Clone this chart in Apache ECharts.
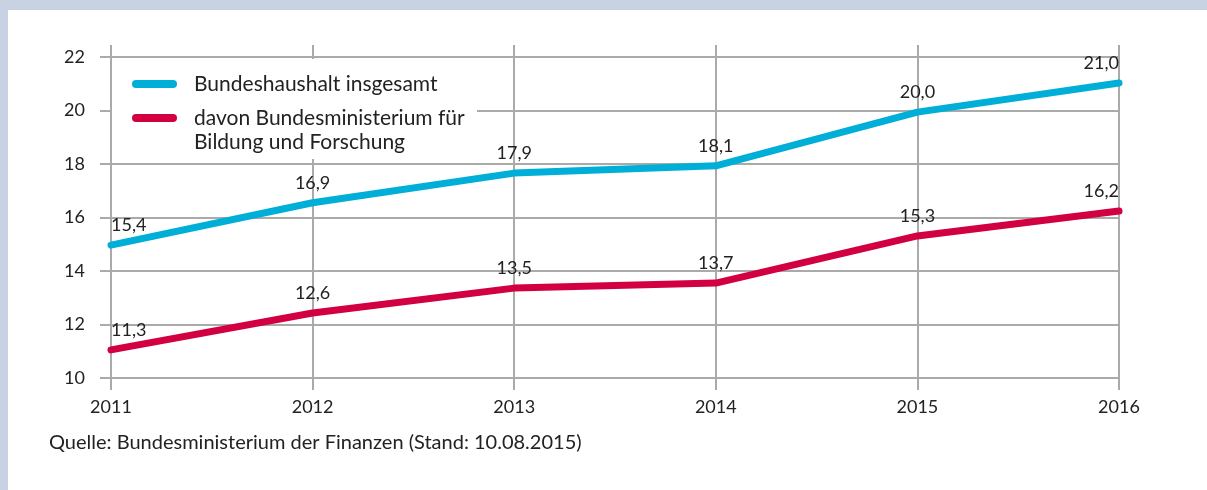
<!DOCTYPE html>
<html>
<head>
<meta charset="utf-8">
<script src="https://cdn.jsdelivr.net/npm/echarts@6/dist/echarts.min.js"></script>
<style>
  html, body { margin: 0; padding: 0; background: #c8d2e3; }
  #chart { width: 1207px; height: 490px; }
</style>
</head>
<body>
<div id="chart"></div>
<script>
  // Jahre und Werte (Mrd. Euro)
  var years = ['2011', '2012', '2013', '2014', '2015', '2016'];
  var gesamt = [14.97, 16.55, 17.66, 17.93, 19.94, 21.03];
  var bmbf = [11.05, 12.43, 13.36, 13.55, 15.31, 16.24];
  var gesamtLabels = ['15,4', '16,9', '17,9', '18,1', '20,0', '21,0'];
  var bmbfLabels = ['11,3', '12,6', '13,5', '13,7', '15,3', '16,2'];
  var yTicks = [10, 12, 14, 16, 18, 20, 22];

  var fontFamily = 'Lato';
  var textColor = '#222222';
  var gridColor = '#aaaaaa';
  var nameGesamt = 'Bundeshaushalt insgesamt';
  var nameBmbf = 'davon Bundesministerium für\nBildung und Forschung';

  function buildData(values, labels) {
    return values.map(function (v, i) {
      var align = 'center';
      if (i === 0) align = 'left';
      if (i === values.length - 1) align = 'right';
      return {
        value: v,
        label: { formatter: labels[i], align: align }
      };
    });
  }

  // Legendentext etwas vom Symbol abruecken
  function legendText(name) {
    return name.split('\n').map(function (s) { return '{t|' + s + '}'; }).join('\n');
  }
  var legendRich = { t: { fontSize: 21, color: textColor, lineHeight: 24, padding: [0, 0, 0, 12], fontFamily: fontFamily } };
  var legendIcon = 'path://M4,0 L41,0 A4,4 0 0 1 41,8 L4,8 A4,4 0 0 1 4,0 Z';

  var myChart = echarts.init(document.getElementById('chart'));
  var option = {
    animation: false,
    textStyle: { fontFamily: fontFamily },
    graphic: [{
      type: 'rect',
      z: -10,
      shape: { x: 8, y: 10, width: 1199, height: 480 },
      style: { fill: '#ffffff' }
    }, {
      // weisser Kasten hinter der Legende
      type: 'rect',
      z: 3,
      shape: { x: 112, y: 59, width: 365, height: 100 },
      style: { fill: '#ffffff' }
    }],
    title: {
      text: 'Quelle: Bundesministerium der Finanzen (Stand: 10.08.2015)',
      left: 49,
      top: 433,
      padding: 0,
      textStyle: { fontFamily: fontFamily, fontSize: 20, fontWeight: 'normal', color: textColor }
    },
    legend: [{
      orient: 'vertical',
      left: 132,
      top: 72,
      padding: 0,
      itemWidth: 45,
      itemHeight: 8,
      icon: legendIcon,
      selectedMode: false,
      formatter: legendText,
      textStyle: { fontSize: 21, color: textColor, lineHeight: 24, rich: legendRich },
      data: [nameGesamt]
    }, {
      orient: 'vertical',
      left: 132,
      top: 82,
      padding: 0,
      itemWidth: 45,
      itemHeight: 8,
      icon: legendIcon,
      selectedMode: false,
      formatter: function (name) { return '\n' + legendText(name); },
      textStyle: { fontSize: 21, color: textColor, lineHeight: 24, rich: legendRich },
      data: [nameBmbf]
    }],
    grid: { left: 111, right: 88, top: 57, bottom: 112 },
    xAxis: [{
      type: 'category',
      data: years,
      boundaryGap: false,
      axisLine: { show: false },
      axisTick: { show: true, length: 12, lineStyle: { color: gridColor, width: 2 } },
      axisLabel: { margin: 20, fontSize: 18, color: textColor, fontFamily: fontFamily },
      splitLine: { show: true, lineStyle: { color: gridColor, width: 2 } }
    }, {
      type: 'category',
      position: 'top',
      data: years,
      boundaryGap: false,
      axisLine: { show: false },
      axisTick: { show: true, length: 12, lineStyle: { color: gridColor, width: 2 } },
      axisLabel: { show: false },
      splitLine: { show: false }
    }],
    yAxis: {
      type: 'value',
      min: yTicks[0],
      max: yTicks[yTicks.length - 1],
      interval: 2,
      axisLine: { show: false },
      axisTick: { show: true, length: 11, lineStyle: { color: gridColor, width: 2 } },
      axisLabel: { margin: 26, fontSize: 18, color: textColor, fontFamily: fontFamily },
      splitLine: { show: true, lineStyle: { color: gridColor, width: 2 } }
    },
    series: [{
      name: nameGesamt,
      type: 'line',
      data: buildData(gesamt, gesamtLabels),
      symbol: 'circle',
      symbolSize: 1,
      itemStyle: { color: '#00afd7' },
      lineStyle: { width: 7, cap: 'round', join: 'round', color: '#00afd7' },
      label: { show: true, position: 'top', distance: 10, fontSize: 18, color: textColor, fontFamily: fontFamily },
      z: 3
    }, {
      name: nameBmbf,
      type: 'line',
      data: buildData(bmbf, bmbfLabels),
      symbol: 'circle',
      symbolSize: 1,
      itemStyle: { color: '#d20041' },
      lineStyle: { width: 7, cap: 'round', join: 'round', color: '#d20041' },
      label: { show: true, position: 'top', distance: 10, fontSize: 18, color: textColor, fontFamily: fontFamily },
      z: 3
    }]
  };
  myChart.setOption(option);
</script>
</body>
</html>
